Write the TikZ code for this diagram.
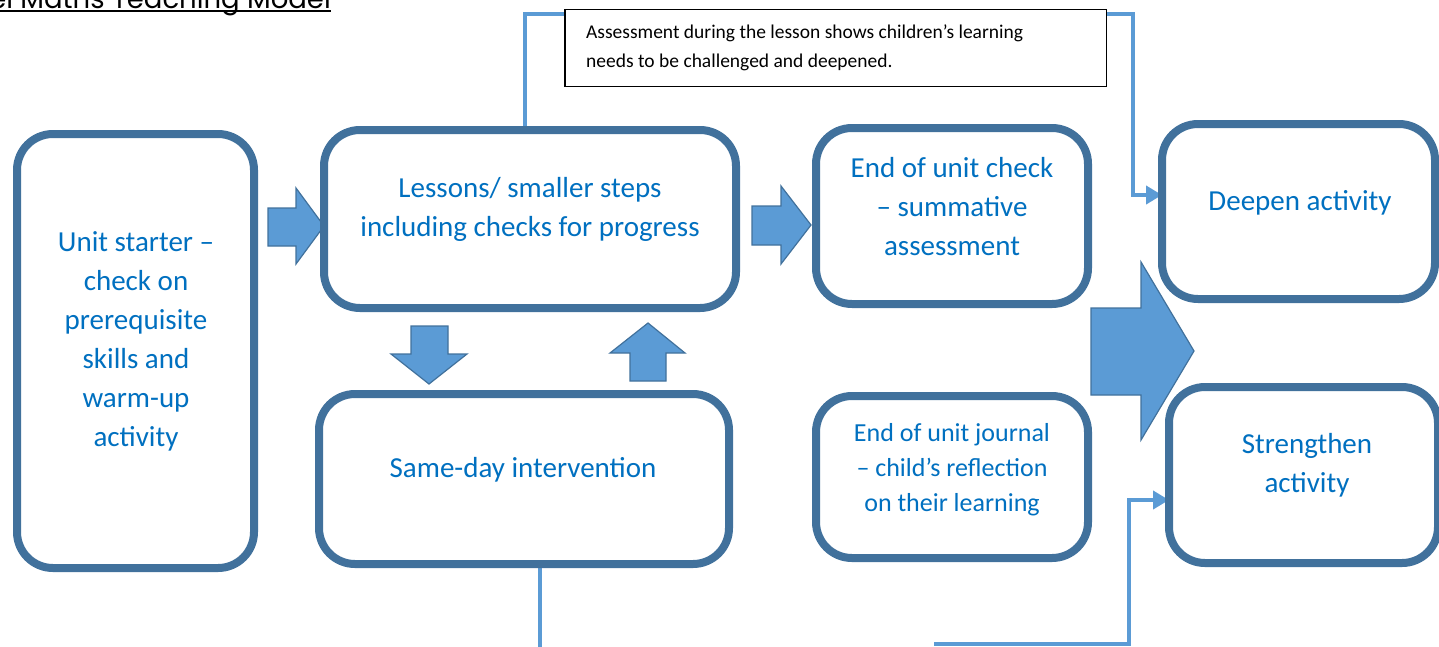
\documentclass[tikz,border=0pt]{standalone}
\usepackage{fontspec}
\setmainfont{Carlito}
\newfontfamily\titlefont{Poppins}
\usetikzlibrary{arrows.meta}
\pgfdeclarelayer{background}
\pgfsetlayers{background,main}
\definecolor{boxline}{HTML}{41719C}
\definecolor{txtblue}{HTML}{0070C0}
\definecolor{connblue}{HTML}{5B9BD5}
\definecolor{arrfill}{HTML}{5B9BD5}
\begin{document}
\begin{tikzpicture}[x=1pt,y=-1pt,
 stagebox/.style={draw=boxline, line width=8pt, rounded corners=36pt, fill=white, inner sep=0pt, outer sep=0pt},
 stagetext/.style={text=txtblue, align=center, font=\fontsize{29}{39}\selectfont, inner sep=0pt},
 smalltext/.style={text=txtblue, align=center, font=\fontsize{26}{35}\selectfont, inner sep=0pt},
 conn/.style={draw=connblue, line width=4.5pt},
 connarrow/.style={conn, -{Triangle[length=16pt,width=18pt]}},
 blockarrow/.style={fill=arrfill, draw=boxline, line width=1.2pt, line join=miter},
 notebox/.style={draw=black, line width=1.5pt, fill=white, inner sep=0pt, outer sep=0pt}]
\useasboundingbox (0,0) rectangle (1439,646);

% title
\node[anchor=base east, inner sep=0pt, font=\titlefont\fontsize{27.5}{30}\selectfont] (title) at (331,8.5) {el Maths Teaching Model};
\draw[line width=2pt] ([yshift=-2.5pt]title.base west) -- ([yshift=-2.5pt]title.base east);

% stage boxes
\node[stagebox, minimum width=237pt, minimum height=434pt] (b1) at (135.5,351) {};
\node[stagebox, minimum width=412pt, minimum height=178pt] (b2) at (530,219) {};
\node[stagebox, minimum width=410pt, minimum height=170pt] (b3) at (524,479) {};
\node[stagebox, minimum width=272pt, minimum height=176pt] (b4) at (952,216) {};
\node[stagebox, minimum width=272pt, minimum height=162pt] (b5) at (952,477) {};
\node[stagebox, minimum width=273pt, minimum height=175pt] (b6) at (1298.5,211.5) {};
\node[stagebox, minimum width=269pt, minimum height=176pt] (b7) at (1303.5,475) {};

% texts
\node[stagetext] (b1t) at (136,341) {Unit starter –\\check on\\prerequisite\\skills and\\warm-up\\activity};
\node[stagetext] (b2t) at (530,209) {Lessons/ smaller steps\\including checks for progress};
\node[stagetext] (b3t) at (523,470) {Same-day intervention};
\node[stagetext] (b4t) at (952,207) {End of unit check\\– summative\\assessment};
\node[smalltext] (b5t) at (952,470) {End of unit journal\\– child’s reflection\\on their learning};
\node[stagetext] (b6t) at (1300,203) {Deepen activity};
\node[stagetext] (b7t) at (1307,465) {Strengthen\\activity};

% note box
\node[notebox, minimum width=541.5pt, minimum height=77pt] (note) at (835.5,48) {};
\node[anchor=west, align=left, inner sep=0pt, font=\fontsize{19.5}{29}\selectfont] (notetext) at (586,48) {Assessment during the lesson shows children’s learning\\needs to be challenged and deepened.};

% connectors and block arrows behind
\begin{pgfonlayer}{background}
\coordinate (t1) at (525,14);
\coordinate (t2) at (1133,14);
\coordinate (t3) at (1133,195);
\draw[connarrow] (b2.north -| t1) -- (t1) -- (t2) -- (t3) -- (b6.west |- t3);
\coordinate (u1) at (540,660);
\draw[conn] (b3.south -| u1) -- (u1);
\coordinate (v1) at (934,644);
\coordinate (v2) at (1129,644);
\coordinate (v3) at (1129,500);
\draw[connarrow] (v1) -- (v2) -- (v3) -- (b7.west |- v3);

% block arrows
\draw[blockarrow] (268,208) -- (296,208) -- (296,188) -- (324,226) -- (296,264) -- (296,246) -- (268,246) -- cycle;
\draw[blockarrow] (752,206) -- (781,206) -- (781,186) -- (811,225) -- (781,264) -- (781,245) -- (752,245) -- cycle;
\draw[blockarrow] (411,326) -- (448,326) -- (448,354) -- (467,354) -- (429,384) -- (391,354) -- (411,354) -- cycle;
\draw[blockarrow] (630,381) -- (666,381) -- (666,353) -- (685,353) -- (648,323) -- (610,353) -- (630,353) -- cycle;
\draw[blockarrow] (1091,308) -- (1141,308) -- (1141,262) -- (1194,351) -- (1141,440) -- (1141,395) -- (1091,395) -- cycle;
\end{pgfonlayer}
\end{tikzpicture}
\end{document}
